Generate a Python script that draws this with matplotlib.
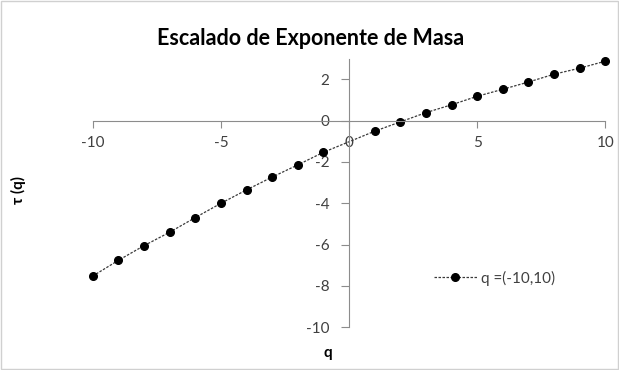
import matplotlib.pyplot as plt
from matplotlib.patches import Rectangle

# q from -10 to 10 (no point plotted at q = 0)
q = [-10, -9, -8, -7, -6, -5, -4, -3, -2, -1, 1, 2, 3, 4, 5, 6, 7, 8, 9, 10]
tau = [-7.52, -6.76, -6.05, -5.40, -4.69, -4.00, -3.35, -2.73, -2.14, -1.53,
       -0.51, -0.06, 0.39, 0.77, 1.18, 1.52, 1.87, 2.25, 2.54, 2.88]

x_ticks = [-10, -5, 0, 5, 10]
y_ticks = [-10, -8, -6, -4, -2, 0, 2]

plt.rcParams['font.family'] = ['Lato', 'DejaVu Sans']
plt.rcParams['axes.unicode_minus'] = False

fig = plt.figure(figsize=(6.19, 3.70), dpi=100)
ax = fig.add_axes([0.1498, 0.1154, 0.978 - 0.1498, 0.8414 - 0.1154])

ax.plot(q, tau, color='#3a3a3a', linestyle=(0, (2, 1.2)), linewidth=0.9,
        marker='o', markersize=5.5, markerfacecolor='black',
        markeredgecolor='black', label='q =(-10,10)', clip_on=False)

ax.set_xlim(-10, 10)
ax.set_ylim(-10, 3)
ax.set_xticks(x_ticks)
ax.set_yticks(y_ticks)

gray = '#8c8c8c'
for s in ['top', 'right']:
    ax.spines[s].set_visible(False)
ax.spines['left'].set_position(('data', 0))
ax.spines['bottom'].set_position(('data', 0))
ax.spines['left'].set_color(gray)
ax.spines['bottom'].set_color(gray)
ax.tick_params(axis='x', direction='out', length=5, color=gray, pad=6,
               labelsize=11, labelcolor='#404040')
ax.tick_params(axis='y', direction='out', length=6, color=gray, pad=8,
               labelsize=11, labelcolor='#404040')

fig.text(0.502, 0.895, 'Escalado de Exponente de Masa', ha='center',
         va='center', fontsize=15.5, fontweight='bold')
fig.text(0.53, 0.046, 'q', ha='center', va='center', fontsize=11,
         fontweight='bold')
fig.text(0.030, 0.486, 'τ (q)', ha='center', va='center', fontsize=11,
         fontweight='bold', rotation=90)

ax.legend(loc='center left', bbox_to_anchor=(0.701, 0.2486),
          bbox_transform=fig.transFigure, frameon=False, borderpad=0,
          borderaxespad=0, handlelength=2.8, handletextpad=0.3,
          fontsize=11, labelcolor='#404040')

fig.patches.append(Rectangle((0.001, 0.002), 0.997, 0.996,
                             transform=fig.transFigure, fill=False,
                             edgecolor='#d0d0d0', linewidth=1))

fig.savefig('out.png', dpi=100)
